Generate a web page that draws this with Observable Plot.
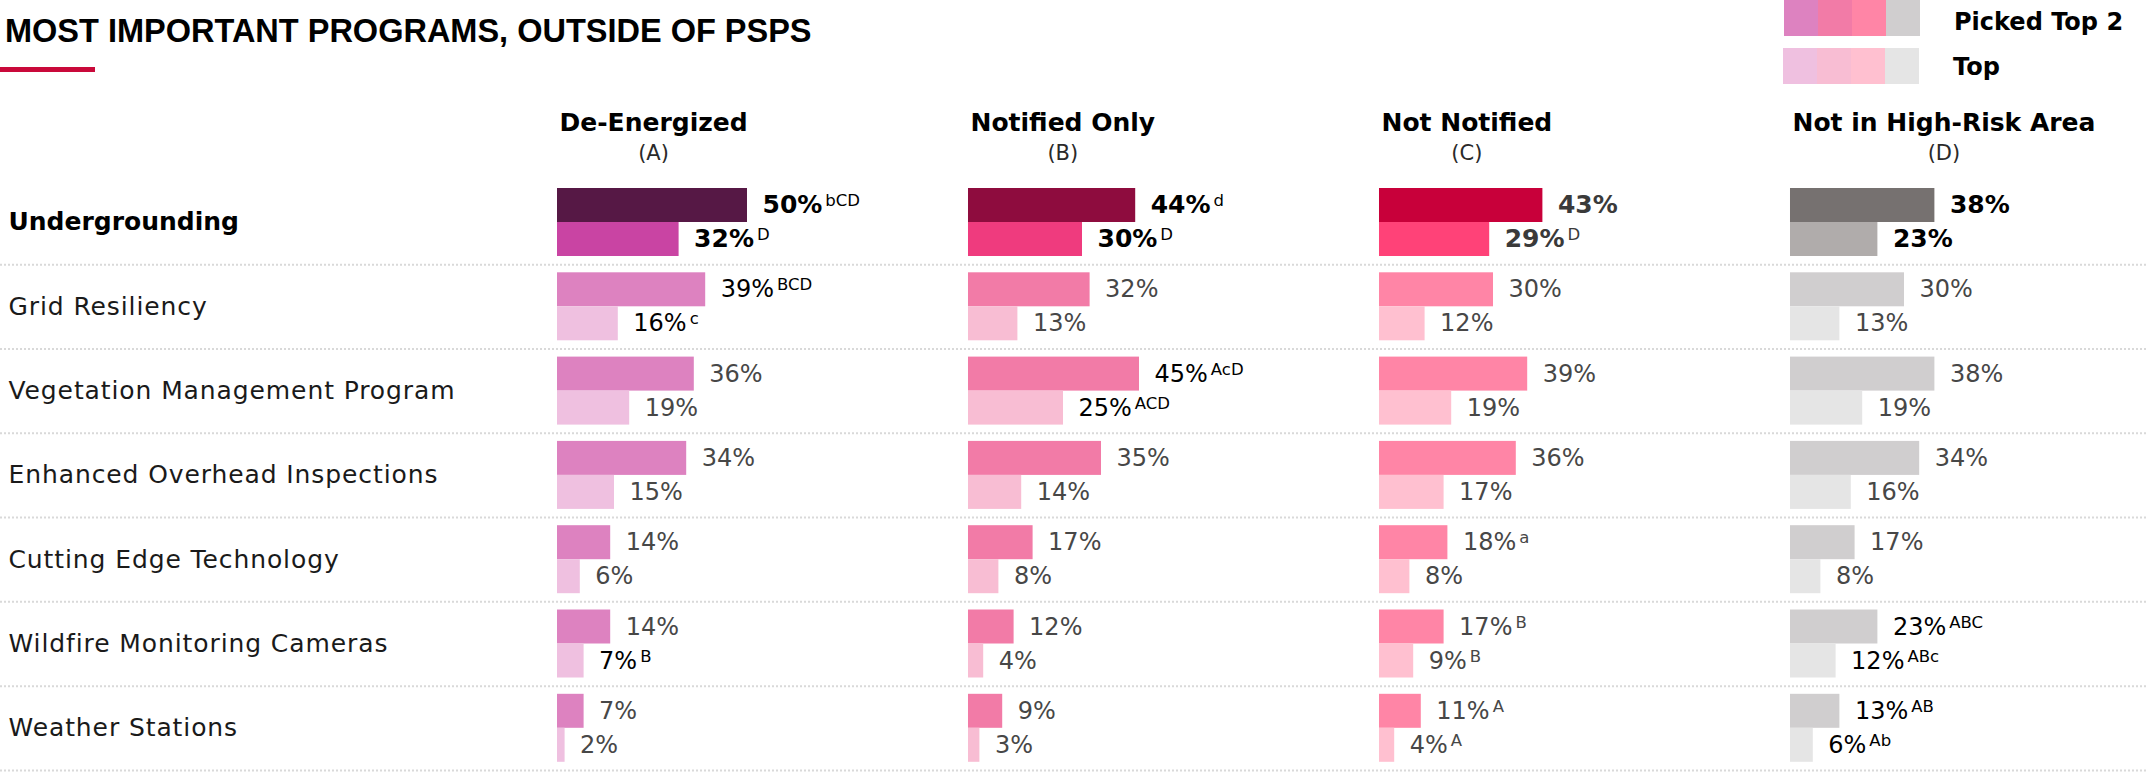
<!DOCTYPE html>
<html>
<head>
<meta charset="utf-8">
<script src="https://cdn.jsdelivr.net/npm/d3@7"></script>
<script src="https://cdn.jsdelivr.net/npm/@observablehq/plot@0.6"></script>
<style>
  body { margin: 0; background: #fff; }
  #wrap { position: relative; width: 2146px; height: 778px; overflow: hidden; }
  #chart { position: absolute; left: 0; top: 0; }
  #title { position: absolute; left: 5px; top: 15px; font-family: "Liberation Sans", sans-serif; font-weight: 700; font-size: 32.5px; line-height: 32px; white-space: nowrap; color: #000; }
  #accent { position: absolute; left: 0; top: 67px; width: 95px; height: 5px; background: #c9093a; }
  .swrow { position: absolute; display: flex; }
  .swrow div { width: 34px; height: 36px; }
  .leglabel { position: absolute; font-family: "DejaVu Sans", sans-serif; font-weight: 700; font-size: 24px; line-height: 24px; color: #000; white-space: nowrap; }
</style>
</head>
<body>
<div id="wrap">
  <div id="chart"></div>
  <div id="title">MOST IMPORTANT PROGRAMS, OUTSIDE OF PSPS</div>
  <div id="accent"></div>
  <div class="swrow" id="sw1" style="left:1784px;top:0px;"></div>
  <div class="swrow" id="sw2" style="left:1783px;top:48px;"></div>
  <div class="leglabel" id="leg1" style="left:1954px;top:10px;"></div>
  <div class="leglabel" id="leg2" style="left:1953px;top:55px;"></div>
</div>
<script>
// ---------- data ----------
const programs = ["Undergrounding", "Grid Resiliency", "Vegetation Management Program",
  "Enhanced Overhead Inspections", "Cutting Edge Technology", "Wildfire Monitoring Cameras", "Weather Stations"];
const groups = ["A", "B", "C", "D"];
const groupNames = ["De-Energized", "Notified Only", "Not Notified", "Not in High-Risk Area"];
const seriesNames = ["Picked Top 2", "Top"];

const top2A = [50, 39, 36, 34, 14, 14, 7];
const top2B = [44, 32, 45, 35, 17, 12, 9];
const top2C = [43, 30, 39, 36, 18, 17, 11];
const top2D = [38, 30, 38, 34, 17, 23, 13];
const topA = [32, 16, 19, 15, 6, 7, 2];
const topB = [30, 13, 25, 14, 8, 4, 3];
const topC = [29, 12, 19, 17, 8, 9, 4];
const topD = [23, 13, 19, 16, 8, 12, 6];

const supTop2A = ["bCD", "BCD", "", "", "", "", ""];
const supTop2B = ["d", "", "AcD", "", "", "", ""];
const supTop2C = ["", "", "", "", "a", "B", "A"];
const supTop2D = ["", "", "", "", "", "ABC", "AB"];
const supTopA = ["D", "c", "", "", "", "B", ""];
const supTopB = ["D", "", "ACD", "", "", "", ""];
const supTopC = ["D", "", "", "", "", "B", "A"];
const supTopD = ["", "", "", "", "", "ABc", "Ab"];

const top2Colors = ["#dd82c0", "#f27ba7", "#ff85a6", "#d0cecf"];
const topColors = ["#efc0e0", "#f8bdd3", "#ffc0d0", "#e5e5e5"];
const leadTop2Colors = ["#561845", "#8e0c3e", "#c8003a", "#767170"];
const leadTopColors = ["#c944a3", "#ef3b7e", "#ff4278", "#b0acab"];

// ---------- table ----------
const top2Sets = [top2A, top2B, top2C, top2D];
const topSets = [topA, topB, topC, topD];
const supTop2Sets = [supTop2A, supTop2B, supTop2C, supTop2D];
const supTopSets = [supTopA, supTopB, supTopC, supTopD];

const rows = [];
groups.forEach((g, gi) => {
  programs.forEach((p, pi) => {
    rows.push({g, p, s: seriesNames[0], v: top2Sets[gi][pi], sup: supTop2Sets[gi][pi],
      fill: pi === 0 ? leadTop2Colors[gi] : top2Colors[gi], lead: pi === 0});
    rows.push({g, p, s: seriesNames[1], v: topSets[gi][pi], sup: supTopSets[gi][pi],
      fill: pi === 0 ? leadTopColors[gi] : topColors[gi], lead: pi === 0});
  });
});

// ---------- legend (html) ----------
top2Colors.forEach(c => { const d = document.createElement("div"); d.style.background = c; document.getElementById("sw1").appendChild(d); });
topColors.forEach(c => { const d = document.createElement("div"); d.style.background = c; document.getElementById("sw2").appendChild(d); });
document.getElementById("leg1").textContent = seriesNames[0];
document.getElementById("leg2").textContent = seriesNames[1];

// ---------- layout ----------
const W = 2146, H = 778;
const mL = 557, mT = 188, mB = 16.2;
const pxPer = 3.8;              // pixels per percentage point
const fxPad = 0.1338;
const fxStep = (W - mL) / (groups.length - fxPad);
const fxBw = fxStep * (1 - fxPad);
const xMax = fxBw / pxPer;
const yPad = 0.1934;
const yStep = (H - mT - mB) / (programs.length - yPad);
const yBw = yStep * (1 - yPad);

const FONT = "DejaVu Sans";
const HEADER_SIZE = 25;
const canvas = document.createElement("canvas");
const ctx = canvas.getContext("2d");
ctx.font = `700 ${HEADER_SIZE}px "${FONT}"`;
const headerWidth = i => ctx.measureText(groupNames[i]).width;

const isT2 = d => d.s === seriesNames[0];
const dark = d => d.g !== "C" && (d.lead || d.sup !== "");
const labelText = d => d.v + "%" + (d.sup ? "^" + d.sup : "");

function labels(filter, dy, bold) {
  return Plot.text(rows.filter(filter), {
    fx: "g", y: "p", x: "v", text: labelText, dx: 15, dy,
    textAnchor: "start", lineAnchor: "middle",
    fill: d => dark(d) ? "#000000" : (d.lead ? "#3a3a3a" : "#474747"),
    fontSize: bold ? 25 : 24, fontWeight: bold ? 700 : 400
  });
}

const chart = Plot.plot({
  width: W, height: H,
  marginLeft: mL, marginRight: 0, marginTop: mT, marginBottom: mB,
  fx: {domain: groups, paddingInner: fxPad, paddingOuter: 0, round: false, axis: null},
  x: {domain: [0, xMax], axis: null},
  y: {domain: programs, paddingInner: yPad, paddingOuter: 0, round: false, axis: null},
  color: {type: "identity"},
  style: {fontFamily: FONT, background: "transparent", overflow: "visible"},
  marks: [
    Plot.ruleY(programs, {
      fx: () => "A", y: d => d, dy: yStep / 2,
      x1: -mL / pxPer, x2: (W - mL) / pxPer,
      stroke: "#d9d9d9", strokeWidth: 2, strokeDasharray: "2 2"
    }),
    Plot.barX(rows.filter(isT2), {fx: "g", y: "p", x: "v", fill: "fill", insetBottom: yBw / 2}),
    Plot.barX(rows.filter(d => !isT2(d)), {fx: "g", y: "p", x: "v", fill: "fill", insetTop: yBw / 2}),
    labels(d => isT2(d) && d.lead, -yBw / 4, true),
    labels(d => isT2(d) && !d.lead, -yBw / 4, false),
    labels(d => !isT2(d) && d.lead, yBw / 4, true),
    labels(d => !isT2(d) && !d.lead, yBw / 4, false),
    Plot.text(programs.slice(0, 1), {
      fx: () => "A", y: d => d, frameAnchor: "left", dx: 8 - mL,
      textAnchor: "start", fontSize: 25, fontWeight: 700, fill: "#000"
    }),
    Plot.text(programs.slice(1), {
      fx: () => "A", y: d => d, frameAnchor: "left", dx: 8 - mL,
      textAnchor: "start", fontSize: 25, fontWeight: 400, fill: "#1a1a1a"
    }),
    Plot.text(groups, {
      fx: d => d, frameAnchor: "top-left", text: (d, i) => groupNames[i],
      dx: 2, dy: 122 - mT, lineAnchor: "middle", textAnchor: "start",
      fontSize: HEADER_SIZE, fontWeight: 700, fill: "#000"
    }),
    Plot.text(groups, {
      fx: d => d, x: (d, i) => (2 + headerWidth(i) / 2) / pxPer, frameAnchor: "top",
      text: d => "(" + d + ")", dy: 153 - mT, lineAnchor: "middle", textAnchor: "middle",
      fontSize: 21, fontWeight: 400, fill: "#2a2a2a"
    })
  ]
});

// superscripts and row-label tracking
chart.querySelectorAll("text").forEach(t => {
  if (t.childElementCount === 0 && t.textContent.includes("^")) {
    const [main, sup] = t.textContent.split("^");
    t.textContent = main;
    const ts = document.createElementNS("http://www.w3.org/2000/svg", "tspan");
    ts.textContent = sup;
    ts.setAttribute("dx", "3");
    ts.setAttribute("dy", "-7");
    ts.setAttribute("font-size", "16.5");
    ts.setAttribute("font-weight", "400");
    t.appendChild(ts);
  } else if (programs.slice(1).includes(t.textContent)) {
    t.setAttribute("letter-spacing", "0.9");
  }
});

document.getElementById("chart").appendChild(chart);
</script>
</body>
</html>
